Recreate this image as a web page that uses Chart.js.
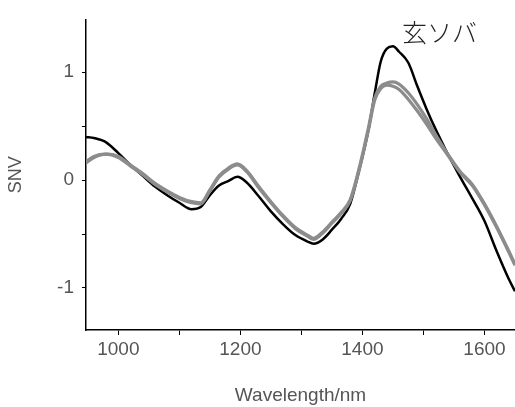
<!DOCTYPE html>
<html>
<head>
<meta charset="utf-8">
<script src="https://cdn.jsdelivr.net/npm/chart.js@4/dist/chart.umd.min.js"></script>
<style>
  html, body { margin: 0; padding: 0; background: #fff; }
  #wrap { width: 515px; height: 407px; position: relative; }
</style>
</head>
<body>
<div id="wrap"><canvas id="snvChart"></canvas></div>
<script>
const wavelengths = [947, 960, 980, 1000, 1020, 1040, 1060, 1080, 1100, 1120, 1135, 1150, 1165, 1180, 1195, 1210, 1230, 1250, 1270, 1290, 1310, 1320, 1335, 1350, 1365, 1380, 1395, 1410, 1420, 1430, 1440, 1450, 1460, 1475, 1490, 1505, 1520, 1540, 1560, 1580, 1600, 1620, 1640, 1650];

const snvBlack = [0.40, 0.39, 0.35, 0.25, 0.14, 0.04, -0.06, -0.14, -0.21, -0.27, -0.25, -0.14, -0.05, -0.01, 0.03, -0.02, -0.15, -0.29, -0.41, -0.51, -0.57, -0.59, -0.55, -0.46, -0.36, -0.22, 0.10, 0.47, 0.80, 1.10, 1.22, 1.24, 1.19, 1.09, 0.87, 0.66, 0.47, 0.24, 0.03, -0.17, -0.38, -0.66, -0.92, -1.03];

const snvGrayA = [0.17, 0.22, 0.24, 0.22, 0.14, 0.06, -0.03, -0.10, -0.16, -0.20, -0.21, -0.09, 0.04, 0.11, 0.15, 0.09, -0.06, -0.20, -0.33, -0.44, -0.51, -0.54, -0.48, -0.39, -0.30, -0.18, 0.12, 0.49, 0.76, 0.87, 0.90, 0.91, 0.89, 0.81, 0.70, 0.57, 0.42, 0.24, 0.08, -0.04, -0.22, -0.43, -0.66, -0.78];

const snvGrayB = [0.16, 0.21, 0.24, 0.21, 0.13, 0.05, -0.04, -0.11, -0.17, -0.21, -0.22, -0.10, 0.03, 0.10, 0.14, 0.08, -0.07, -0.21, -0.34, -0.45, -0.52, -0.55, -0.49, -0.40, -0.31, -0.19, 0.10, 0.47, 0.74, 0.85, 0.88, 0.87, 0.84, 0.75, 0.64, 0.52, 0.39, 0.23, 0.07, -0.05, -0.23, -0.44, -0.67, -0.79];

const xTicks = [1000, 1100, 1200, 1300, 1400, 1500, 1600];
const yTicks = [-1, -0.5, 0, 0.5, 1];
const sampleLabel = "玄ソバ";

const toPoints = values => wavelengths.map((w, i) => ({ x: w, y: values[i] }));

const labelColor = "#555";

/* sample name written in the upper right */
const sampleLabelPlugin = {
    id: "sampleLabel",
    afterDraw(chart) {
        const ctx = chart.ctx;
        ctx.save();
        ctx.font = "300 25px 'Noto Sans CJK JP'";
        ctx.fillStyle = "#222";
        ctx.textAlign = "left";
        ctx.textBaseline = "middle";
        ctx.fillText(sampleLabel, 402, 32);
        ctx.restore();
    }
};

const lineStyle = (color, width) => ({
    borderColor: color,
    borderWidth: width,
    pointRadius: 0,
    fill: false,
    cubicInterpolationMode: "monotone"
});

new Chart(document.querySelector("#snvChart"), {
    type: "line",
    data: {
        datasets: [
            { label: "gray A", data: toPoints(snvGrayA), ...lineStyle("#8c8c8c", 3.2) },
            { label: "gray B", data: toPoints(snvGrayB), ...lineStyle("#8c8c8c", 3.2) },
            { label: "black", data: toPoints(snvBlack), ...lineStyle("#000", 2.5) }
        ]
    },
    options: {
        responsive: true,
        maintainAspectRatio: false,
        animation: false,
        layout: { padding: { top: 14, left: 0, right: 0, bottom: 0 } },
        plugins: {
            legend: { display: false },
            tooltip: { enabled: false }
        },
        scales: {
            x: {
                type: "linear",
                min: 947,
                max: 1650,
                afterBuildTicks: axis => { axis.ticks = xTicks.map(v => ({ value: v })); },
                afterFit: axis => { axis.height = 77; },
                grid: { drawOnChartArea: false, drawTicks: true, tickLength: 5, color: "#000" },
                border: { color: "#000", width: 1.5 },
                ticks: {
                    color: labelColor,
                    font: { family: "'Liberation Sans', Arial", size: 19 },
                    padding: 3,
                    maxRotation: 0,
                    callback: value => (value % 200 === 0 ? value : "")
                },
                title: {
                    display: true,
                    text: "Wavelength/nm",
                    color: labelColor,
                    font: { family: "'Liberation Sans', Arial", size: 19 },
                    padding: { top: 0, bottom: 0 }
                }
            },
            y: {
                min: -1.39,
                max: 1.49,
                afterBuildTicks: axis => { axis.ticks = yTicks.map(v => ({ value: v })); },
                afterFit: axis => { axis.width = 86; },
                grid: { drawOnChartArea: false, drawTicks: true, tickLength: 4, color: "#000" },
                border: { color: "#000", width: 1.5 },
                ticks: {
                    color: labelColor,
                    font: { family: "'Liberation Sans', Arial", size: 19 },
                    padding: 8,
                    callback: value => (Number.isInteger(value) ? value : "")
                },
                title: {
                    display: true,
                    text: "SNV",
                    color: labelColor,
                    font: { family: "'Liberation Sans', Arial", size: 18 },
                    padding: { top: 5, bottom: 0 }
                }
            }
        }
    },
    plugins: [sampleLabelPlugin]
});
</script>
</body>
</html>
